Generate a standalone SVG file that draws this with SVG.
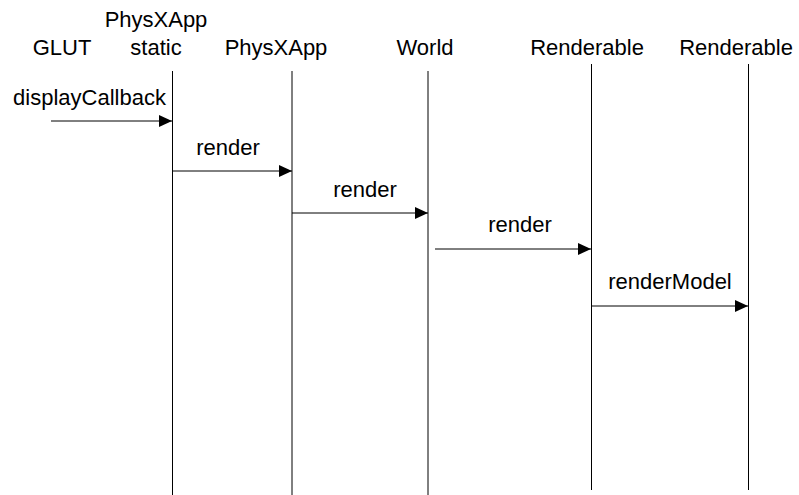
<svg xmlns="http://www.w3.org/2000/svg" width="799" height="495" viewBox="0 0 799 495">
<style>
text{font-family:"Liberation Sans",Arial,sans-serif;font-size:22px;fill:#000;text-anchor:middle}
.life{stroke:#000;stroke-width:1;fill:none}
.msg{stroke:#000;stroke-width:1;fill:none;marker-end:url(#ah)}
</style>
<defs>
<marker id="ah" markerWidth="13" markerHeight="12" refX="13" refY="6" orient="auto" markerUnits="userSpaceOnUse">
<path d="M0,0 L13,6 L0,12 Z" fill="#000"/>
</marker>
</defs>
<rect width="799" height="495" fill="#fff"/>
<g id="glut"><text x="62" y="55">GLUT</text></g>
<g id="physxapp-static"><text x="156" y="27">PhysXApp</text><text x="156" y="55">static</text><line class="life" x1="172.5" y1="71" x2="172.5" y2="495"/></g>
<g id="physxapp"><text x="276" y="55">PhysXApp</text><line class="life" x1="292" y1="71" x2="292" y2="495"/></g>
<g id="world"><text x="425" y="55">World</text><line class="life" x1="428" y1="71" x2="428" y2="495"/></g>
<g id="renderable1"><text x="587" y="55">Renderable</text><line class="life" x1="591.5" y1="64" x2="591.5" y2="490"/></g>
<g id="renderable2"><text x="736" y="55">Renderable</text><line class="life" x1="748.5" y1="64" x2="748.5" y2="490"/></g>
<g id="connectors">
<line class="msg" x1="51" y1="121" x2="172" y2="121"/>
<text x="89.5" y="105">displayCallback</text>
<line class="msg" x1="172" y1="171" x2="292" y2="171"/>
<text x="228" y="155">render</text>
<line class="msg" x1="292" y1="213" x2="428" y2="213"/>
<text x="365" y="197">render</text>
<line class="msg" x1="435" y1="249" x2="591" y2="249"/>
<text x="520" y="232">render</text>
<line class="msg" x1="591" y1="306" x2="748" y2="306"/>
<text x="670" y="289">renderModel</text>
</g>
</svg>
